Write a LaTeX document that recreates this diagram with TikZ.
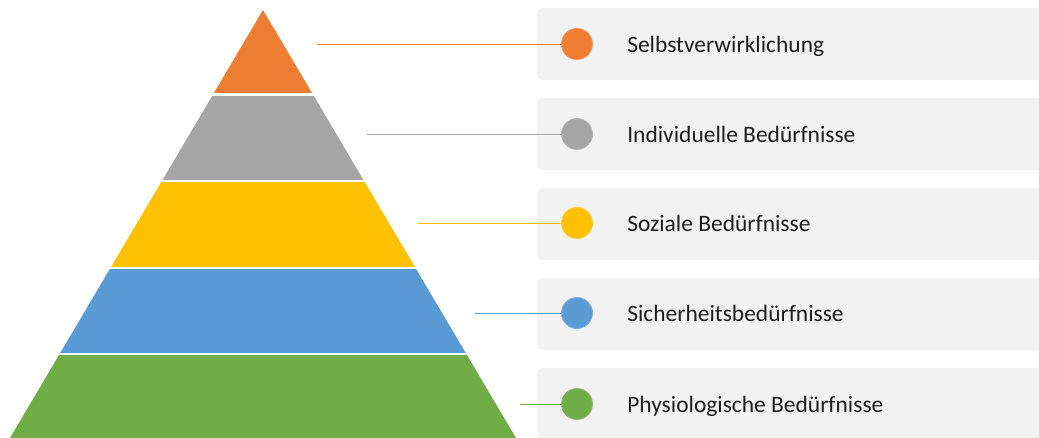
\documentclass[tikz,border=0pt]{standalone}
\usepackage{fontspec}
\setmainfont{Carlito}
\definecolor{lvlorange}{HTML}{ED7D31}
\definecolor{lvlgray}{HTML}{A5A5A5}
\definecolor{lvlyellow}{HTML}{FFC000}
\definecolor{lvlblue}{HTML}{5B9BD5}
\definecolor{lvlgreen}{HTML}{70AD47}
\definecolor{panelbg}{HTML}{F2F2F2}
\definecolor{labeltext}{HTML}{1E1E1E}
\begin{document}
\begin{tikzpicture}[x=0.75pt,y=-0.75pt,
  panel/.style={draw=none,fill=panelbg,rounded corners=4pt,minimum width=520*0.75pt,minimum height=72*0.75pt,anchor=west,inner sep=0pt},
  dot/.style={circle,fill=#1,draw=#1!80!white,line width=0.6pt,minimum size=31*0.75pt,inner sep=0pt},
  label/.style={anchor=base west,font=\fontsize{17.6}{20}\selectfont,text=labeltext,inner sep=0pt},
  link/.style={draw=#1,line width=0.6pt}]
\useasboundingbox (0,0) rectangle (1039,438);

% pyramid: colour bands clipped to the triangle
\begin{scope}
  \clip (263,10) -- (516,438) -- (10,438) -- cycle;
  \fill[lvlorange] (0,0) rectangle (1039,94.5);
  \fill[lvlgray]   (0,94.5) rectangle (1039,181);
  \fill[lvlyellow] (0,181) rectangle (1039,268);
  \fill[lvlblue]   (0,268) rectangle (1039,354);
  \fill[lvlgreen]  (0,354) rectangle (1039,440);
  \foreach \yy in {94.5,181,268,354}
    \draw[white,line width=2pt] (0,\yy) -- (1039,\yy);
\end{scope}

% label panels
\node[panel] (p1) at (537,44) {};
\node[panel] (p2) at (537,134) {};
\node[panel] (p3) at (537,224) {};
\node[panel] (p4) at (537,314) {};
\node[panel] (p5) at (537,404) {};

% markers
\node[dot=lvlorange] (c1) at (577,44) {};
\node[dot=lvlgray]   (c2) at (577,134) {};
\node[dot=lvlyellow] (c3) at (577,223) {};
\node[dot=lvlblue]   (c4) at (577,313) {};
\node[dot=lvlgreen]  (c5) at (577,404) {};

% connector start points beside the pyramid
\coordinate (s1) at (317,44);
\coordinate (s2) at (367,134);
\coordinate (s3) at (418,223);
\coordinate (s4) at (475,313);
\coordinate (s5) at (520,404);

\draw[link=lvlorange] (s1) -- (c1);
\draw[link=lvlgray]   (s2) -- (c2);
\draw[link=lvlyellow] (s3) -- (c3);
\draw[link=lvlblue]   (s4) -- (c4);
\draw[link=lvlgreen]  (s5) -- (c5);

% texts
\node[label] (t1) at (627,53) {Selbstverwirklichung};
\node[label] (t2) at (627,143) {Individuelle Bedürfnisse};
\node[label] (t3) at (627,232) {Soziale Bedürfnisse};
\node[label] (t4) at (627,322) {Sicherheitsbedürfnisse};
\node[label] (t5) at (627,412) {Physiologische Bedürfnisse};
\end{tikzpicture}
\end{document}
